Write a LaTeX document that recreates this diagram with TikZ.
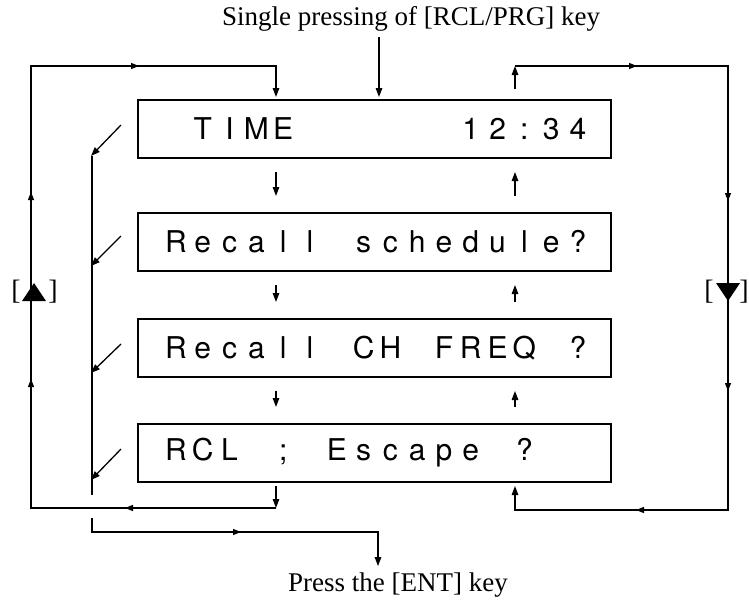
\documentclass[tikz,border=0pt]{standalone}
\usepackage{fontspec}
\setmainfont{Liberation Serif}
\newfontfamily\lcdfont{TeX Gyre Heros}
\usetikzlibrary{arrows.meta,decorations.markings,calc}
\newlength\cw \setlength\cw{26.8pt}
\newcommand\lcd[1]{\hspace*{5pt}\lcdloop#1\relax}
\def\lcdloop#1{\ifx#1\relax\else\lcdcell{#1}\expandafter\lcdloop\fi}
\def\lcdcell#1{\makebox[\cw]{\if.#1\else#1\fi}}
\begin{document}
\begin{tikzpicture}[x=1pt,y=-1pt,
  lcdbox/.style={draw, line width=2pt, minimum width=473pt, minimum height=58pt, inner sep=0pt,
    font=\lcdfont\fontsize{30}{30}\selectfont},
  conn/.style={line width=1.3pt},
  tip/.style={-{Triangle[length=9pt,width=6.5pt]}},
  lbl/.style={font=\fontsize{27}{27}\selectfont, inner sep=0pt},
  brk/.style={font=\fontsize{28}{28}\selectfont, inner sep=0pt}
]
\useasboundingbox (0,0) rectangle (749,600);
% boxes
\node[lcdbox] (b1) at (374.5,129) {\lcd{.TIME......12:34}};
\node[lcdbox] (b2) at (374.5,242) {\lcd{Recall.schedule?}};
\node[lcdbox] (b3) at (374.5,348) {\lcd{Recall.CH.FREQ.?}};
\node[lcdbox] (b4) at (374.5,453) {\lcd{RCL.;.Escape.?..}};
% reference columns
\coordinate (L) at (276,0);
\coordinate (R) at (515,0);
\coordinate (A) at (379,0);
% labels
\node[lbl, anchor=base west] (top) at (222,25) {Single pressing of [RCL/PRG] key};
\node[lbl, anchor=base west] (bot) at (288,591) {Press the [ENT] key};
% top arrow
\draw[conn,tip] ($(top.south -| A)+(0,6)$) -- ($(b1.north -| A)+(0,-2)$);
% down arrows between boxes
\draw[conn,tip] ($(b1.south -| L)+(0,13)$) -- ($(b2.north -| L)+(0,-16)$);
\draw[conn,tip] ($(b2.south -| L)+(0,13)$) -- ($(b3.north -| L)+(0,-16)$);
\draw[conn,tip] ($(b3.south -| L)+(0,13)$) -- ($(b4.north -| L)+(0,-16)$);
% up arrows between boxes
\draw[conn,tip] ($(b2.north -| R)+(0,-16)$) -- ($(b1.south -| R)+(0,13)$);
\draw[conn,tip] ($(b3.north -| R)+(0,-16)$) -- ($(b2.south -| R)+(0,13)$);
\draw[conn,tip] ($(b4.north -| R)+(0,-16)$) -- ($(b3.south -| R)+(0,13)$);
% left loop
\coordinate (lbr) at (276,508);
\coordinate (lbl) at (31,508);
\coordinate (ltl) at (31,66);
\coordinate (ltr) at (276,66);
\draw[conn,tip] ($(b4.south -| L)+(0,3)$) -- (lbr);
\draw[conn,tip,postaction={decorate},decoration={markings,
    mark=at position 151pt with {\arrow{Triangle[length=8pt,width=6pt]}},
    mark=at position 374pt with {\arrow{Triangle[length=8pt,width=6pt]}},
    mark=at position 561pt with {\arrow{Triangle[length=8pt,width=6pt]}},
    mark=at position 795pt with {\arrow{Triangle[length=8pt,width=6pt]}}}]
  (lbr) -- (lbl) -- (ltl) -- (ltr) -- ($(b1.north -| L)+(0,-2)$);
% right loop
\coordinate (rtl) at (515,66);
\coordinate (rtr) at (728,66);
\coordinate (rbr) at (728,510);
\coordinate (rbl) at (515,510);
\draw[conn,tip] ($(b1.north -| R)+(0,-10)$) -- (rtl);
\draw[conn,tip,postaction={decorate},decoration={markings,
    mark=at position 122pt with {\arrow{Triangle[length=8pt,width=6pt]}},
    mark=at position 348pt with {\arrow{Triangle[length=8pt,width=6pt]}},
    mark=at position 538pt with {\arrow{Triangle[length=8pt,width=6pt]}},
    mark=at position 749pt with {\arrow{Triangle[length=8pt,width=6pt]}}}]
  (rtl) -- (rtr) -- (rbr) -- (rbl) -- ($(b4.south -| R)+(0,3)$);
% inner (ENT) line
\coordinate (itop) at (92,156);
\coordinate (igap1) at (92,495);
\coordinate (igap2) at (92,518);
\coordinate (ibl) at (92,532);
\coordinate (ibr) at (378,532);
\draw[conn] (itop) -- (igap1);
\draw[conn,tip,postaction={decorate},decoration={markings,
    mark=at position 163pt with {\arrow{Triangle[length=8pt,width=6pt]}}}]
  (igap2) -- (ibl) -- (ibr) -- ($(bot.north -| ibr)+(0,-6)$);
% diagonal arrows
\draw[conn,tip] ($(b1.west)+(-16,-4)$) -- ++(-30,31);
\draw[conn,tip] ($(b2.west)+(-16,-6)$) -- ++(-30,30);
\draw[conn,tip] ($(b3.west)+(-16,-4)$) -- ++(-30,29);
\draw[conn,tip] ($(b4.west)+(-16,-4)$) -- ++(-30,31);
% key labels
\node[brk] (kl1) at (16,292) {[};
\node[brk] (kl2) at (53,292) {]};
\fill (22,301) -- (46,301) -- (34,283) -- cycle;
\node[brk] (kr1) at (709,292) {[};
\node[brk] (kr2) at (744,292) {]};
\fill (716,283) -- (740,283) -- (728,301) -- cycle;
\end{tikzpicture}
\end{document}
